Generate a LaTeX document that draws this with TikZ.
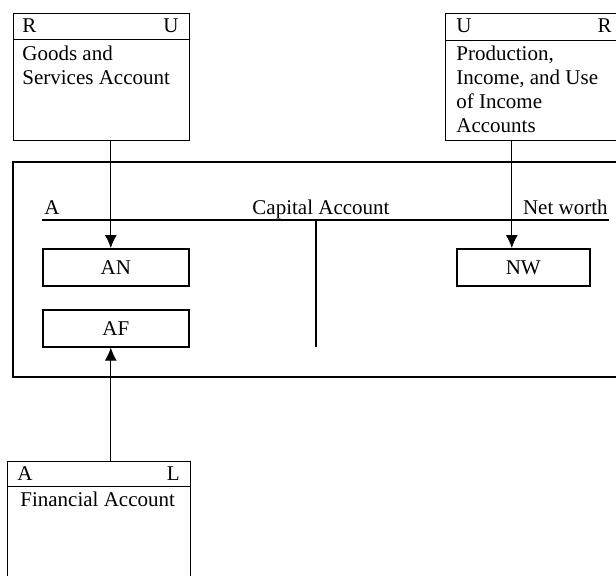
\documentclass[tikz,border=0pt]{standalone}
\usepackage{fontspec}
\setmainfont{Liberation Serif}
\usetikzlibrary{arrows.meta,positioning}

\begin{document}
\begin{tikzpicture}[x=0.5pt,y=-0.5pt,
  font=\fontsize{10.5}{12}\selectfont,
  acct/.style={draw,line width=0.5pt,anchor=north west,inner sep=0pt},
  entry/.style={draw,line width=0.8pt,minimum width=73pt,minimum height=18.5pt,inner sep=0pt},
  txt/.style={inner sep=0pt,align=left,anchor=north west},
  arr/.style={line width=0.5pt,-{Latex[length=6.5pt,width=6pt]}}]
  \useasboundingbox (0,0) rectangle (616,575);
  \clip (0,0) rectangle (616,575);

  % capital account frame
  \draw[line width=1.2pt] (13,162) rectangle (640,377);
  \draw[line width=1.3pt] (42,220) -- (609,220);
  \draw[line width=1.3pt] (316,220) -- (316,347);
  \node[inner sep=0pt,anchor=base west] (capA) at (44,214) {A};
  \node[inner sep=0pt,anchor=base] (captitle) at (321,214) {Capital Account};
  \node[inner sep=0pt,anchor=base east] (capNW) at (608,214) {Net worth};
  \node[entry,anchor=north west] (an) at (42,248) {AN};
  \node[entry,anchor=north west] (af) at (42,309) {AF};
  \node[entry,anchor=north west,minimum width=66.5pt] (nw) at (456,248) {NW};

  % goods and services
  \node[acct,minimum width=88pt,minimum height=63.5pt] (goods) at (13,13) {};
  \draw[line width=0.5pt] (13,39) -- (189,39);
  \node[inner sep=0pt,anchor=base west] (goodsR) at (22,32) {R};
  \node[inner sep=0pt,anchor=base east] (goodsU) at (179,32) {U};
  \node[txt] (goodstxt) at (22,46) {Goods and\\Services Account};

  % production, income, use of income
  \node[acct,minimum width=100pt,minimum height=63.5pt] (income) at (445,13) {};
  \draw[line width=0.5pt] (445,40) -- (645,40);
  \node[inner sep=0pt,anchor=base west] (incomeU) at (456,32) {U};
  \node[inner sep=0pt,anchor=base east] (incomeR) at (612,32) {R};
  \node[txt] (incometxt) at (456,46) {Production,\\Income, and Use\\of Income\\Accounts};

  % financial account
  \node[acct,minimum width=91.5pt,minimum height=80pt] (fin) at (7,461) {};
  \draw[line width=0.5pt] (7,486) -- (190,486);
  \node[inner sep=0pt,anchor=base west] (finA) at (17,480) {A};
  \node[inner sep=0pt,anchor=base east] (finL) at (180,480) {L};
  \node[txt] (fintxt) at (20,492) {Financial Account};

  % flows
  \coordinate (anin) at ([xshift=-2.5pt]an.north);
  \coordinate (nwin) at ([xshift=-5.75pt]nw.north);
  \coordinate (afin) at ([xshift=-2.5pt]af.south);
  \draw[arr] (goods.south -| anin) -- (anin);
  \draw[arr] (income.south -| nwin) -- (nwin);
  \draw[arr] (fin.north -| afin) -- (afin);
\end{tikzpicture}
\end{document}
